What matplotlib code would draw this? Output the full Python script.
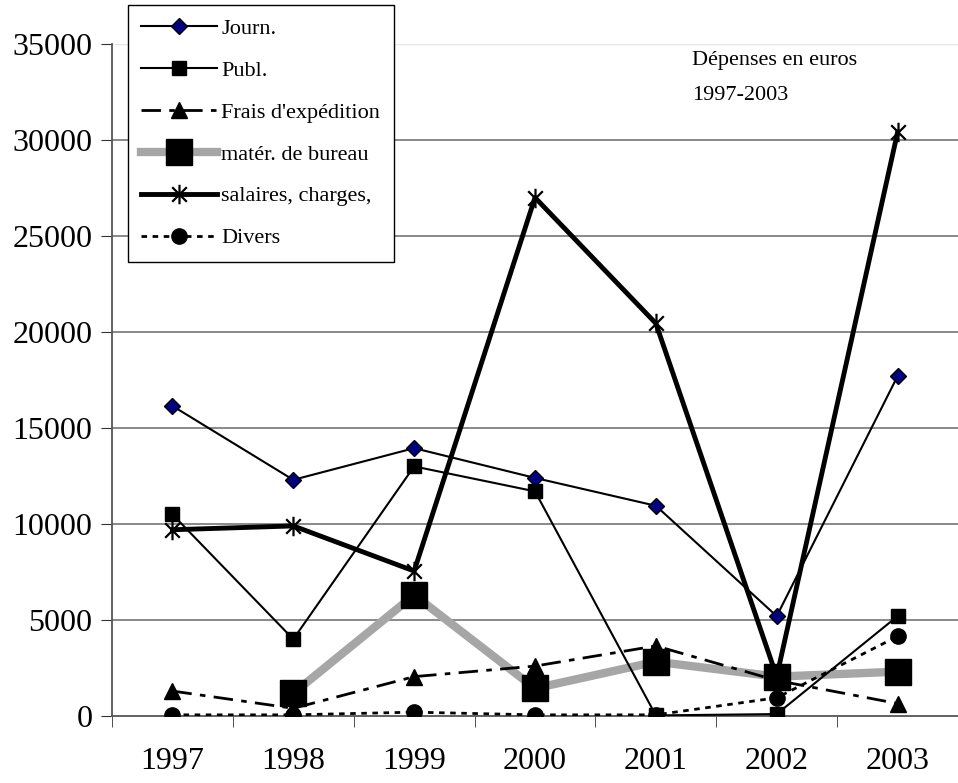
import numpy as np
import matplotlib
matplotlib.use("Agg")
import matplotlib.pyplot as plt
from matplotlib.path import Path
from matplotlib.ticker import FixedLocator, MultipleLocator

years = ["1997", "1998", "1999", "2000", "2001", "2002", "2003"]
journ = [16150, 12300, 13950, 12400, 10950, 5200, 17700]
publ = [10500, 4000, 13000, 11700, 30, 100, 5200]
frais = [1300, 400, 2050, 2600, 3650, 1850, 650]
materiel = [np.nan, 1180, 6300, 1440, 2830, 2050, 2310]
salaires = [9700, 9900, 7550, 27000, 20450, 2050, 30400]
divers = [60, 60, 200, 60, 60, 950, 4150]

series_labels = ["Journ.", "Publ.", "Frais d'expédition", "matér. de bureau",
                 "salaires, charges,", "Divers"]

plt.rcParams['font.family'] = ['Liberation Serif', 'DejaVu Serif']

fig = plt.figure(figsize=(9.58, 7.83), dpi=100)
ax = fig.add_axes([112/958, 1-716/783, 1-112/958, (716-44)/783])

x = np.arange(len(years))

ast = Path([(0, -1), (0, 1), (-0.75, -0.75), (0.75, 0.75), (-0.75, 0.75), (0.75, -0.75)],
           [Path.MOVETO, Path.LINETO, Path.MOVETO, Path.LINETO, Path.MOVETO, Path.LINETO])

h1, = ax.plot(x, journ, color='black', lw=1.5, marker='D', ms=8.5, mfc='#000080',
              mec='black', mew=1, zorder=3)
h2, = ax.plot(x, publ, color='black', lw=1.5, marker='s', ms=10, mfc='black',
              mec='black', zorder=3)
h3, = ax.plot(x, frais, color='black', lw=2, ls=(0, (7, 3, 2, 3)), marker='^', ms=11,
              mfc='black', mec='black', zorder=3)
h4, = ax.plot(x, materiel, color='#a6a6a6', lw=6, marker='s', ms=19, mfc='black',
              mec='black', zorder=2.5)
h5, = ax.plot(x, salaires, color='black', lw=3.5, marker=ast, ms=14, mew=1.6,
              mec='black', zorder=2.6)
h6, = ax.plot(x, divers, color='black', lw=2, ls=(0, (2, 2)), marker='o', ms=11,
              mfc='black', mec='black', zorder=3)

ax.set_xlim(-0.5, len(years) - 0.5)
ax.set_ylim(0, 35000)
ax.yaxis.set_major_locator(MultipleLocator(5000))
ax.set_xticks(x)
ax.set_xticklabels(years)
ax.xaxis.set_minor_locator(FixedLocator(np.arange(-0.5, len(years), 1.0)))
ax.tick_params(axis='x', which='major', length=0, pad=22, labelsize=23)
ax.tick_params(axis='x', which='minor', length=8, direction='out', color='#333333')
ax.tick_params(axis='y', length=8, direction='out', pad=6, labelsize=23, color='#333333')

for v in range(5000, 35001, 5000):
    ax.axhline(v, color='#808080', lw=1.3, zorder=1)
ax.axhline(35000, color='#e6e6e6', lw=1.0, zorder=1)

for s in ['top', 'right']:
    ax.spines[s].set_visible(False)
ax.spines['left'].set_color('#555555')
ax.spines['bottom'].set_color('#555555')
ax.spines['left'].set_linewidth(1.3)
ax.spines['bottom'].set_linewidth(1.3)

fig.text(692/958, 1-60/783, "Dépenses en euros", fontsize=16, va='center', ha='left')
fig.text(692/958, 1-95/783, "1997-2003", fontsize=16, va='center', ha='left')

leg = ax.legend([h1, h2, h3, h4, h5, h6], series_labels, loc='upper left',
                bbox_to_anchor=(128/958, 1-5/783), bbox_transform=fig.transFigure,
                frameon=True, fancybox=False, framealpha=1, edgecolor='black',
                fontsize=16, handlelength=3.4, handletextpad=0.2,
                labelspacing=0.96, borderpad=0.6, borderaxespad=0)
leg.get_frame().set_linewidth(1.0)
leg.set_zorder(10)

fig.savefig("out.png", dpi=100)
